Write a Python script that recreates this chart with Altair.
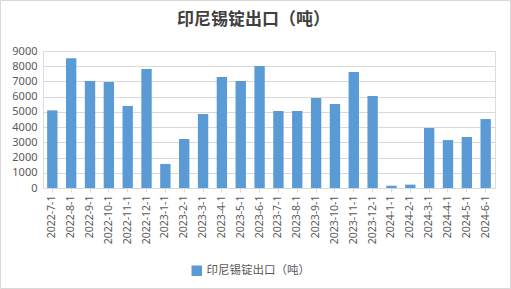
import altair as alt
import pandas as pd

months = ["2022-7-1", "2022-8-1", "2022-9-1", "2022-10-1", "2022-11-1", "2022-12-1",
          "2023-1-1", "2023-2-1", "2023-3-1", "2023-4-1", "2023-5-1", "2023-6-1",
          "2023-7-1", "2023-8-1", "2023-9-1", "2023-10-1", "2023-11-1", "2023-12-1",
          "2024-1-1", "2024-2-1", "2024-3-1", "2024-4-1", "2024-5-1", "2024-6-1"]
exports = [5100, 8520, 7030, 6970, 5390, 7820,
           1580, 3220, 4860, 7290, 7030, 8020,
           5060, 5060, 5910, 5520, 7620, 6040,
           150, 220, 3940, 3150, 3350, 4530]
series_name = "印尼锡锭出口（吨）"
title_text = "印尼锡锭出口（吨）"

df = pd.DataFrame({"month": months, "value": exports, "series": [series_name] * len(months)})

W, H = 452, 137
PL, PT, PR, PB = 43, 51, 16, 101

bars = alt.Chart(df).mark_bar(color="#5B9BD5").encode(
    x=alt.X("month:N", sort=months, title=None,
            scale=alt.Scale(paddingInner=0.45, paddingOuter=0.22),
            axis=alt.Axis(labelAngle=270, labelAlign="right", labelBaseline="middle",
                          labelFontSize=10.5, labelColor="#595959", labelFont="Noto Sans",
                          domainColor="#d9d9d9", tickColor="#d9d9d9", tickSize=4,
                          labelPadding=3, grid=False)),
    y=alt.Y("value:Q", title=None,
            scale=alt.Scale(domain=[0, 9000], nice=False),
            axis=alt.Axis(values=list(range(0, 9001, 1000)), format="d",
                          domain=False, ticks=False,
                          labelFontSize=11, labelColor="#595959", labelFont="Noto Sans",
                          gridColor="#d9d9d9", labelPadding=6)),
    color=alt.Color("series:N", scale=alt.Scale(range=["#5B9BD5"]), title=None,
                    legend=alt.Legend(orient="none", legendX=148, legendY=214,
                                      symbolType="square", symbolSize=110,
                                      symbolStrokeWidth=0, labelFontSize=11.5,
                                      labelColor="#595959", labelFont="Noto Sans CJK SC",
                                      labelLimit=300)),
)

title = alt.Chart(alt.Data(values=[{"t": title_text}])).mark_text(
    font="Noto Sans CJK SC", fontSize=17, fontWeight="bold", color="#404040",
    align="center", baseline="middle", clip=False
).encode(
    text="t:N", x=alt.value(255.5 - PL - 2), y=alt.value(20 - PT),
)

border = alt.Chart(alt.Data(values=[{}])).mark_rect(
    fill=None, stroke="#d9d9d9", strokeWidth=1, clip=False
).encode(
    x=alt.value(-PL + 0.5), x2=alt.value(W + PR - 0.5),
    y=alt.value(-PT + 0.5), y2=alt.value(H + PB - 0.5),
)

chart = alt.layer(border, bars, title).properties(
    width=W, height=H,
    padding={"left": PL, "top": PT, "right": PR, "bottom": PB},
    autosize=alt.AutoSizeParams(type="none"),
).configure_view(stroke=None).configure(background="white")

chart.save("out.html", embed_options={"renderer": "svg", "actions": False})
